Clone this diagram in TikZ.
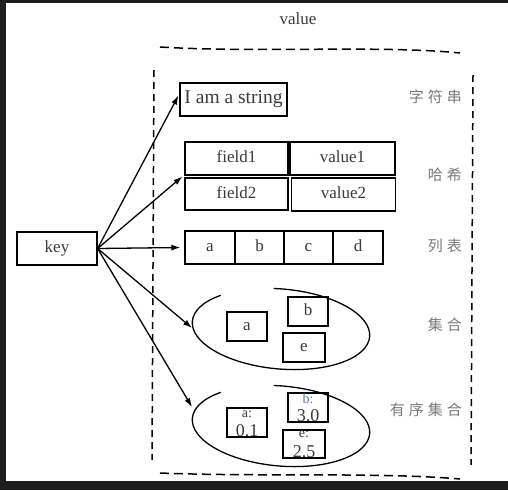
\documentclass[tikz,border=0pt]{standalone}
\usepackage{fontspec}
\setmainfont{Liberation Serif}
\newfontfamily\cjk{Noto Sans CJK SC}
\usetikzlibrary{arrows.meta,calc}
\definecolor{txt}{HTML}{3A3A3A}
\definecolor{cjkc}{HTML}{7A7A7A}
\definecolor{bluegrey}{HTML}{6A7690}
\definecolor{bgdark}{HTML}{1E1E1E}
\begin{document}
\begin{tikzpicture}[x=1pt,y=-1pt,
  box/.style={draw=black,line width=1.2pt,inner sep=0pt,font=\fontsize{17}{17}\selectfont,text=txt,text height=0.85em,text depth=0.05em},
  smallbox/.style={box,minimum width=40pt,minimum height=29pt},
  lbl/.style={inner sep=0pt,font=\fontsize{14}{14}\selectfont,text=txt},
  num/.style={inner sep=0pt,font=\fontsize{18}{18}\selectfont,text=txt},
  cjklbl/.style={inner sep=0pt,anchor=east,font=\cjk\fontsize{15}{15}\selectfont,text=cjkc},
  arr/.style={line width=1.3pt,-{Latex[length=9pt,width=6pt]}},
  frame/.style={line width=1.5pt,dash pattern=on 9pt off 5pt},
  vframe/.style={line width=1.5pt,dash pattern=on 7pt off 5pt},
  blob/.style={line width=1.3pt}]
\useasboundingbox (0,0) rectangle (508,490);
\fill[bgdark] (0,0) rectangle (508,490);
\fill[white] (6,3) rectangle (508,481);

% title
\node[inner sep=0pt,font=\fontsize{17}{17}\selectfont,text=txt] (title) at (298,19) {value};

% dashed frame
\draw[frame] (160,47) .. controls (260,53) and (380,45) .. (460,53);
\draw[vframe] (154,70) -- (152,460);
\draw[vframe] (473,75) -- (471,465);
\draw[frame] (160,473) .. controls (260,477) and (380,472) .. (460,479);

% key
\node[box,minimum width=80pt,minimum height=33pt] (key) at (57,248.5) {key};

% string
\node[box,minimum width=107pt,minimum height=33pt,font=\fontsize{19.5}{19.5}\selectfont] (str) at (233.5,99.5) {I am a string};
\node[cjklbl] (lstr) at (462,97) {字\hspace{4pt}符\hspace{4pt}串};

% hash
\node[box,minimum width=103pt,minimum height=33pt] (f1) at (236.5,158.5) {field1};
\node[box,minimum width=105pt,minimum height=33pt] (v1) at (342.5,158.5) {value1};
\node[box,minimum width=103pt,minimum height=32pt] (f2) at (236.5,194) {field2};
\node[box,minimum width=104pt,minimum height=33pt] (v2) at (343.5,194.5) {value2};
\node[cjklbl] (lhash) at (462,175) {哈\hspace{4pt}希};

% list
\node[box,minimum width=50pt,minimum height=33pt] (la) at (210,247.5) {a};
\node[box,minimum width=49pt,minimum height=33pt] (lb) at (259.5,247.5) {b};
\node[box,minimum width=49pt,minimum height=33pt] (lc) at (308.5,247.5) {c};
\node[box,minimum width=50pt,minimum height=33pt] (ld) at (358,247.5) {d};
\node[cjklbl] (llist) at (462,246) {列\hspace{4pt}表};

% set
\begin{scope}[shift={(281,329)},rotate=-5]
  \draw[blob] (-135:89 and 40) arc[start angle=-135,end angle=-457,x radius=89,y radius=40];
\end{scope}
\node[smallbox] (sa) at (247,326.5) {a};
\node[smallbox] (sb) at (308,311.5) {b};
\node[smallbox,minimum width=42pt] (se) at (304,347.5) {e};
\node[cjklbl] (lset) at (462,325) {集\hspace{4pt}合};

% sorted set
\begin{scope}[shift={(281,426)},rotate=-5]
  \draw[blob] (-135:89 and 40) arc[start angle=-135,end angle=-457,x radius=89,y radius=40];
\end{scope}
\node[smallbox] (za) at (247,422.5) {};
\node[lbl,anchor=north] (zal) at ($(za.north)+(0,3)$) {a:};
\node[num,anchor=south] (zan) at ($(za.south)+(0,-1)$) {0.1};
\node[smallbox] (zb) at (308,407.5) {};
\node[lbl,anchor=north,text=bluegrey] (zbl) at ($(zb.north)+(0,1)$) {b:};
\node[num,anchor=south] (zbn) at ($(zb.south)+(0,-1)$) {3.0};
\node[smallbox,minimum width=42pt,minimum height=28pt] (ze) at (304,444) {};
\node[lbl,anchor=north] (zel) at ($(ze.north)+(0,1)$) {e:};
\node[num,anchor=south] (zen) at ($(ze.south)+(0,-1)$) {2.5};
\node[cjklbl] (lzset) at (462,410) {有\hspace{4pt}序\hspace{4pt}集\hspace{4pt}合};

% arrows
\coordinate (strtip) at ($(str.west)+(-1,-4)$);
\coordinate (hashtip) at ($(f1.south west)!0.5!(f2.north west)+(-2,0)$);
\coordinate (listtip) at ($(la.west)+(-4,0)$);
\coordinate (settip) at (192,328);
\coordinate (zsettip) at (192,407);
\draw[arr] (key.east) -- (strtip);
\draw[arr] (key.east) -- (hashtip);
\draw[arr] (key.east) -- (listtip);
\draw[arr] (key.east) -- (settip);
\draw[arr] (key.east) -- (zsettip);
\end{tikzpicture}
\end{document}
